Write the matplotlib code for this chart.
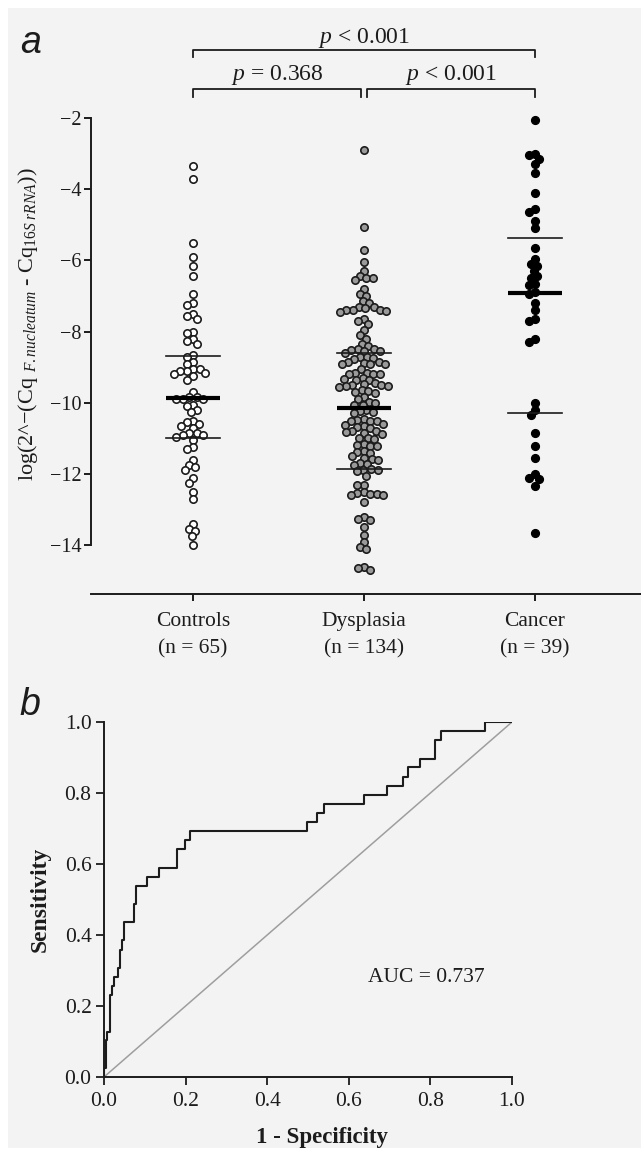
import matplotlib
matplotlib.use("Agg")
import matplotlib.pyplot as plt
import matplotlib.patches as mpatches
import numpy as np

plt.rcParams["font.family"] = ["Liberation Serif", "DejaVu Serif"]
plt.rcParams["mathtext.fontset"] = "custom"
plt.rcParams["mathtext.rm"] = "Liberation Serif"
plt.rcParams["mathtext.it"] = "Liberation Serif:italic"

INK = "#1c1c1c"
BG = "#f3f3f3"

# ---- panel a data: log(2^-(dCq)) per group ----
groups = ["Controls", "Dysplasia", "Cancer"]
group_n = [65, 134, 39]

controls = [
    -3.35, -3.7,
    -5.5, -5.9, -6.15, -6.45,
    -6.95, -7.2, -7.25, -7.5, -7.55, -7.65,
    -8.0, -8.05, -8.2, -8.25, -8.35,
    -8.65, -8.7, -8.85, -8.9,
    -9.05, -9.05, -9.1, -9.1, -9.15, -9.2, -9.25, -9.35,
    -9.7, -9.85, -9.85, -9.9, -9.9, -9.9,
    -10.05, -10.1, -10.2, -10.25,
    -10.5, -10.55, -10.6, -10.65, -10.7,
    -10.85, -10.85, -10.9, -10.9, -10.95,
    -11.05, -11.25, -11.3,
    -11.6, -11.75, -11.8, -11.9, -12.1, -12.25, -12.5, -12.7,
    -13.4, -13.55, -13.6, -13.75, -14.0,
]

dysplasia = [
    -2.9, -5.05, -5.7, -6.05, -6.3,
    -6.45, -6.5, -6.5, -6.55,
    -6.8, -6.95, -7.0, -7.15, -7.2,
    -7.3, -7.32, -7.35, -7.38, -7.4, -7.4, -7.42, -7.45,
    -7.65, -7.7, -7.8, -7.95,
    -8.1, -8.2, -8.35, -8.4,
    -8.5, -8.5, -8.52, -8.55, -8.55, -8.6,
    -8.7, -8.72, -8.75, -8.78,
    -8.85, -8.85, -8.88, -8.9, -8.9, -8.92,
    -9.05,
    -9.15, -9.15, -9.18, -9.2, -9.2,
    -9.3, -9.32, -9.35, -9.35,
    -9.45, -9.48, -9.5, -9.5, -9.52, -9.52, -9.55,
    -9.65, -9.68, -9.7, -9.72,
    -9.85, -9.9,
    -9.98, -10.0, -10.05, -10.05,
    -10.2, -10.22, -10.25, -10.28,
    -10.45, -10.48, -10.5, -10.5, -10.52,
    -10.6, -10.62, -10.65, -10.68, -10.7,
    -10.8, -10.8, -10.82, -10.85, -10.88,
    -10.98, -11.0, -11.02,
    -11.15, -11.18, -11.2, -11.22,
    -11.35, -11.38, -11.4,
    -11.5, -11.55, -11.58, -11.6,
    -11.7, -11.72, -11.75,
    -11.85, -11.88, -11.9, -11.92,
    -12.05, -12.3, -12.32,
    -12.5, -12.52, -12.55, -12.55, -12.58, -12.6,
    -12.8,
    -13.2, -13.25, -13.3,
    -13.5, -13.7,
    -13.9, -14.05, -14.1,
    -14.6, -14.65, -14.7,
]

cancer = [
    -2.05, -3.0, -3.05, -3.15, -3.3, -3.55, -4.1, -4.55, -4.65, -4.9,
    -5.1, -5.65, -5.95, -6.1, -6.15, -6.3, -6.45, -6.5, -6.65, -6.7,
    -6.9, -6.95, -7.2, -7.4, -7.65, -7.7, -8.2, -8.3,
    -10.0, -10.2, -10.35, -10.85, -11.2, -11.55, -12.0, -12.1, -12.15,
    -12.35, -13.65,
]

# median / quartile bars as drawn in the figure
medians = [-9.87, -10.15, -6.91]
q_upper = [-8.68, -8.6, -5.38]
q_lower = [-11.0, -11.87, -10.28]

p_labels = ["$p$ = 0.368", "$p$ < 0.001", "$p$ < 0.001"]

# ---- panel b data: ROC corner points ----
fpr = [0.0, 0.0, 0.004, 0.008, 0.014, 0.019, 0.024, 0.034, 0.038, 0.045,
       0.049, 0.074, 0.079, 0.106, 0.135, 0.18, 0.198, 0.21, 0.497, 0.521,
       0.538, 0.638, 0.694, 0.734, 0.744, 0.775, 0.811, 0.825, 0.935, 1.0]
tpr = [0.0, 0.026, 0.103, 0.128, 0.231, 0.256, 0.282, 0.308, 0.359, 0.385,
       0.436, 0.487, 0.538, 0.564, 0.590, 0.641, 0.667, 0.692, 0.718, 0.744,
       0.769, 0.795, 0.821, 0.846, 0.872, 0.897, 0.949, 0.974, 1.0, 1.0]
auc = 0.737


def swarm(vals, diam, px_per_unit):
    """Simple beeswarm: x offsets (px) so circles of diam px don't overlap."""
    ys = np.asarray(vals) * px_per_unit
    xs = np.zeros(len(ys))
    placed = []
    for i in np.argsort(-ys, kind="stable"):
        y = ys[i]
        near = [(px, py) for px, py in placed if abs(py - y) < diam]
        cands = [0.0]
        for px, py in near:
            dx = np.sqrt(diam ** 2 - (py - y) ** 2)
            cands += [px + dx, px - dx]
        cands.sort(key=lambda c: (round(abs(c), 6), c))
        for c in cands:
            if all((c - px) ** 2 + (y - py) ** 2 >= diam ** 2 - 1e-6 for px, py in near):
                xs[i] = c
                break
        placed.append((xs[i], y))
    return xs


W, H = 641, 1158
fig = plt.figure(figsize=(W / 100, H / 100), dpi=100)
fig.patch.set_facecolor("white")
fig.add_artist(mpatches.Rectangle((8 / W, 10 / H), 633 / W, 1140 / H, transform=fig.transFigure,
                                  facecolor=BG, edgecolor="none", zorder=-10))

# ═══ panel a ═══
ax = fig.add_axes([91 / W, (H - 594) / H, 550 / W, 476 / H])
ax.set_facecolor("none")
x_px = 171.0       # pixels per category
y_px = 35.6        # pixels per unit
ax.set_xlim(-102 / x_px, 448 / x_px)
ax.set_ylim(-2 - 476 / y_px, -2)

styles = [dict(mfc="white", mec=INK, ms=5.3, mew=1.2),
          dict(mfc="#9a9a9a", mec=INK, ms=5.3, mew=1.2),
          dict(mfc="black", mec="black", ms=5.6, mew=1.0)]
for gi, vals in enumerate([controls, dysplasia, cancer]):
    offs = swarm(vals, 6.6, y_px) / x_px
    ax.plot(gi + offs, vals, "o", ls="none", clip_on=False, zorder=3, **styles[gi])
    hw = 27 / x_px
    ax.plot([gi - hw, gi + hw], [medians[gi]] * 2, color="black", lw=3.0, zorder=4, solid_capstyle="butt")
    for q in (q_upper[gi], q_lower[gi]):
        ax.plot([gi - hw, gi + hw], [q] * 2, color=INK, lw=1.2, zorder=4)

for s in ("top", "right"):
    ax.spines[s].set_visible(False)
ax.spines["left"].set_bounds(-14, -2)
for s in ("left", "bottom"):
    ax.spines[s].set_linewidth(1.4)
    ax.spines[s].set_color(INK)
ax.set_yticks(np.arange(-14, -1, 2))
ax.set_xticks(range(3))
ax.set_xticklabels([f"{g}\n(n = {n})" for g, n in zip(groups, group_n)], linespacing=1.55)
ax.tick_params(axis="y", direction="out", length=5, width=1.4, labelsize=14.5, colors=INK, pad=2)
ax.tick_params(axis="x", direction="out", length=5, width=1.4, labelsize=15.5, colors=INK, pad=8)
ax.set_ylabel(r"log(2^−(Cq $_{\mathit{F.nucleatum}}$ - Cq$_{\mathit{16S\ rRNA}}$))",
              fontsize=16, color=INK)
ax.yaxis.set_label_coords(-0.093, 0.567)

# significance brackets
def bracket(x1, x2, y, drop, label, ty):
    ax.plot([x1, x1, x2, x2], [y - drop, y, y, y - drop], color=INK, lw=1.3, clip_on=False)
    ax.text((x1 + x2) / 2, ty, label, ha="center", va="center", fontsize=17, color=INK)

bracket(0, 2, -0.09, 0.2, "$p$ < 0.001", 0.25)
bracket(0, 0.985, -1.19, 0.22, p_labels[0], -0.8)
bracket(1.015, 2, -1.19, 0.22, p_labels[1], -0.8)

fig.text(20 / W, 1 - 43 / H, "a", fontsize=27, style="italic", family="Liberation Sans",
         va="center", ha="left", color=INK)

# ═══ panel b ═══
bx = fig.add_axes([104 / W, (H - 1077) / H, 408 / W, 355 / H])
bx.set_facecolor("none")
bx.plot([0, 1], [0, 1], color="#9e9e9e", lw=1.1, zorder=2)
bx.plot(fpr, tpr, drawstyle="steps-post", color=INK, lw=1.5, zorder=3)
bx.set_xlim(0, 1)
bx.set_ylim(0, 1)
ticks = np.round(np.arange(0, 1.01, 0.2), 1)
bx.set_xticks(ticks)
bx.set_yticks(ticks)
bx.set_xticklabels([f"{t:.1f}" for t in ticks])
bx.set_yticklabels([f"{t:.1f}" for t in ticks])
for s in ("top", "right"):
    bx.spines[s].set_visible(False)
for s in ("left", "bottom"):
    bx.spines[s].set_linewidth(1.4)
    bx.spines[s].set_color(INK)
bx.tick_params(direction="out", length=6, width=1.3, labelsize=15.5, colors=INK, pad=3)
bx.tick_params(axis="x", pad=5)
bx.set_xlabel("1 - Specificity", fontsize=16.5, fontweight="bold", color=INK)
bx.xaxis.set_label_coords(0.535, -0.141)
bx.set_ylabel("Sensitivity", fontsize=17, fontweight="bold", color=INK, labelpad=10)
bx.text(0.79, 0.28, f"AUC = {auc}", ha="center", va="center", fontsize=15.5, color=INK)

fig.text(19 / W, 1 - 705 / H, "b", fontsize=27, style="italic", family="Liberation Sans",
         va="center", ha="left", color=INK)

fig.savefig("out.png", dpi=100, facecolor="white")
